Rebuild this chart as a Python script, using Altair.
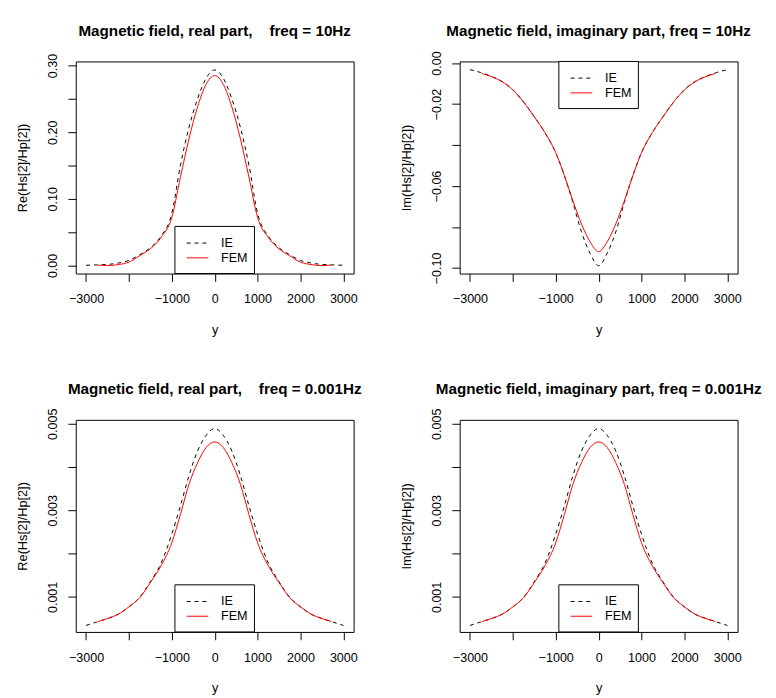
import json
import altair as alt
import pandas as pd

# ---------------- data ----------------
x_ie = [-3000, -2750, -2500, -2250, -2000, -1750, -1500, -1250, -1000, -800, -600, -400, -200, 0,
        200, 400, 600, 800, 1000, 1250, 1500, 1750, 2000, 2250, 2500, 2750, 3000]
x_fem = [-2720, -2500, -2250, -2000, -1750, -1500, -1250, -1000, -800, -600, -400, -200, 0,
         200, 400, 600, 800, 1000, 1250, 1500, 1750, 2000, 2250, 2500, 2720]

re10_ie = [0.0002, 0.0008, 0.0015, 0.0035, 0.0075, 0.0160, 0.0265, 0.0440, 0.0780, 0.1500, 0.2070,
           0.2500, 0.2810, 0.2935, 0.2810, 0.2500, 0.2070, 0.1500, 0.0780, 0.0440, 0.0265, 0.0160,
           0.0075, 0.0035, 0.0015, 0.0008, 0.0002]
re10_fem = [0.0005, -0.0002, 0.0012, 0.0050, 0.0145, 0.0250, 0.0420, 0.0720, 0.1320, 0.1900,
            0.2380, 0.2720, 0.2850, 0.2720, 0.2380, 0.1900, 0.1320, 0.0720, 0.0420, 0.0250,
            0.0145, 0.0050, 0.0012, -0.0002, 0.0005]

im10_ie = [-0.0032, -0.0046, -0.0065, -0.0090, -0.0130, -0.0190, -0.0262, -0.0340, -0.0437,
           -0.0548, -0.0680, -0.0824, -0.0928, -0.0989, -0.0928, -0.0824, -0.0680, -0.0548,
           -0.0437, -0.0340, -0.0262, -0.0190, -0.0130, -0.0090, -0.0065, -0.0046, -0.0032]
im10_fem = [-0.0051, -0.0066, -0.0091, -0.0131, -0.0190, -0.0262, -0.0340, -0.0437, -0.0548,
            -0.0672, -0.0785, -0.0872, -0.0920, -0.0872, -0.0785, -0.0672, -0.0548, -0.0437,
            -0.0340, -0.0262, -0.0190, -0.0131, -0.0091, -0.0066, -0.0051]

re0_ie = [0.00034, 0.00042, 0.00050, 0.00060, 0.00077, 0.00099, 0.00135, 0.00178, 0.00245,
          0.00310, 0.00380, 0.00437, 0.00473, 0.00489, 0.00473, 0.00437, 0.00380, 0.00310,
          0.00245, 0.00178, 0.00135, 0.00099, 0.00077, 0.00060, 0.00050, 0.00042, 0.00034]
re0_fem = [0.00043, 0.00050, 0.00060, 0.00077, 0.00098, 0.00133, 0.00172, 0.00225, 0.00290,
           0.00360, 0.00410, 0.00445, 0.00458, 0.00445, 0.00410, 0.00360, 0.00290, 0.00225,
           0.00172, 0.00133, 0.00098, 0.00077, 0.00060, 0.00050, 0.00043]

im0_ie = [0.00034, 0.00042, 0.00050, 0.00060, 0.00077, 0.00099, 0.00135, 0.00178, 0.00245,
          0.00310, 0.00380, 0.00437, 0.00473, 0.00489, 0.00473, 0.00437, 0.00380, 0.00310,
          0.00245, 0.00178, 0.00135, 0.00099, 0.00077, 0.00060, 0.00050, 0.00042, 0.00034]
im0_fem = [0.00043, 0.00050, 0.00060, 0.00077, 0.00098, 0.00133, 0.00172, 0.00225, 0.00290,
           0.00360, 0.00410, 0.00445, 0.00458, 0.00445, 0.00410, 0.00360, 0.00290, 0.00225,
           0.00172, 0.00133, 0.00098, 0.00077, 0.00060, 0.00050, 0.00043]

x_ticks = [-3000, -2000, -1000, 0, 1000, 2000, 3000]
x_shown = [-3000, -1000, 0, 1000, 2000, 3000]

y_ticks_re10 = [0, 0.05, 0.1, 0.15, 0.2, 0.25, 0.3]
y_shown_re10 = [0, 0.1, 0.2, 0.3]
y_ticks_im10 = [0, -0.02, -0.04, -0.06, -0.08, -0.1]
y_shown_im10 = [0, -0.02, -0.06, -0.1]
y_ticks_low = [0.001, 0.002, 0.003, 0.004, 0.005]
y_shown_low = [0.001, 0.003, 0.005]

series_names = ["IE", "FEM"]
titles = [
    "Magnetic field, real part,\u00a0\u00a0\u00a0 freq = 10Hz",
    "Magnetic field, imaginary part, freq = 10Hz",
    "Magnetic field, real part,\u00a0\u00a0\u00a0 freq = 0.001Hz",
    "Magnetic field, imaginary part, freq = 0.001Hz",
]
y_titles = ["Re(Hs[2]/Hp[2])", "Im(Hs[2]/Hp[2])", "Re(Hs[2]/Hp[2])", "Im(Hs[2]/Hp[2])"]

# ---------------- styling ----------------
W, H = 283, 216
XDOM = [-3240, 3240]
FONT = "Liberation Sans"
one_row = alt.Data(values=[{"k": 1}])


def make_panel(title, ytitle, ie_vals, fem_vals, ydom, yticks, yshown, yfmt, legend_top, anchor=False):
    ie_df = pd.DataFrame({"pos": x_ie, "val": ie_vals})
    fem_df = pd.DataFrame({"pos": x_fem, "val": fem_vals})
    xenc = alt.X(
        "pos:Q",
        scale=alt.Scale(domain=XDOM, nice=False, zero=False),
        axis=alt.Axis(
            values=x_ticks,
            labelExpr=f"indexof({json.dumps(x_shown)}, datum.value) >= 0 ? format(datum.value, 'd') : ''",
            title="y",
            labelPadding=12,
            titlePadding=18,
        ),
    )
    yenc = alt.Y(
        "val:Q",
        scale=alt.Scale(domain=ydom, nice=False, zero=False),
        axis=alt.Axis(
            values=yticks,
            labelExpr=f"indexof({json.dumps(yshown)}, datum.value) >= 0 ? format(datum.value, '{yfmt}') : ''",
            title=ytitle,
            labelAngle=-90,
            labelAlign="center",
            labelBaseline="bottom",
            labelPadding=9,
            titlePadding=17,
        ),
    )
    ie = alt.Chart(ie_df).mark_line(
        color="black", strokeDash=[4, 4], strokeWidth=1, interpolate="monotone"
    ).encode(x=xenc, y=yenc)
    fem = alt.Chart(fem_df).mark_line(
        color="#FF0000", strokeWidth=1, interpolate="monotone"
    ).encode(x=xenc, y=yenc)

    y0 = 0 if legend_top else H - 48
    box = alt.Chart(one_row).mark_rect(fill="white", stroke="black", strokeWidth=1).encode(
        x=alt.value(101), x2=alt.value(182), y=alt.value(y0), y2=alt.value(y0 + 48)
    )
    leg_ie = alt.Chart(one_row).mark_rule(color="black", strokeDash=[4, 4], strokeWidth=1).encode(
        x=alt.value(113), x2=alt.value(135), y=alt.value(y0 + 17)
    )
    leg_fem = alt.Chart(one_row).mark_rule(color="#FF0000", strokeWidth=1).encode(
        x=alt.value(113), x2=alt.value(135), y=alt.value(y0 + 32)
    )
    txt_ie = alt.Chart(one_row).mark_text(
        align="left", baseline="middle", fontSize=12.8, font=FONT, color="black"
    ).encode(x=alt.value(148), y=alt.value(y0 + 17), text=alt.value(series_names[0]))
    txt_fem = alt.Chart(one_row).mark_text(
        align="left", baseline="middle", fontSize=12.8, font=FONT, color="black"
    ).encode(x=alt.value(148), y=alt.value(y0 + 32), text=alt.value(series_names[1]))
    ttl = alt.Chart(one_row).mark_text(
        align="center", baseline="alphabetic", fontSize=15.5, fontWeight="bold", font=FONT, color="black"
    ).encode(x=alt.value(W / 2), y=alt.value(-26), text=alt.value(title))

    layers = [ie, fem, box, leg_ie, leg_fem, txt_ie, txt_fem, ttl]
    if anchor:
        # tiny white mark that pins the top-left corner of the whole figure
        pin = alt.Chart(one_row).mark_rect(fill="white", strokeWidth=0).encode(
            x=alt.value(-63), x2=alt.value(-62), y=alt.value(-42), y2=alt.value(-41)
        )
        layers.append(pin)
    return alt.layer(*layers).properties(width=W, height=H)


p1 = make_panel(titles[0], y_titles[0], re10_ie, re10_fem, [-0.0122, 0.3062],
                y_ticks_re10, y_shown_re10, ".2f", False, anchor=True)
p2 = make_panel(titles[1], y_titles[1], im10_ie, im10_fem, [-0.1027, 0.0008],
                y_ticks_im10, y_shown_im10, ".2f", True)
p3 = make_panel(titles[2], y_titles[2], re0_ie, re0_fem, [0.00019, 0.00509],
                y_ticks_low, y_shown_low, ".3f", False)
p4 = make_panel(titles[3], y_titles[3], im0_ie, im0_fem, [0.00019, 0.00509],
                y_ticks_low, y_shown_low, ".3f", False)

chart = alt.concat(
    p1, p2, p3, p4, columns=2, bounds="flush", spacing={"row": 149, "column": 108}
).properties(
    padding={"left": 5, "top": 5, "right": 5, "bottom": 5}, background="white"
).configure_view(
    stroke="black", strokeWidth=1
).configure_axis(
    grid=False, domain=False, tickColor="black", tickSize=8, tickWidth=1,
    labelFont=FONT, labelFontSize=12.8, labelColor="black",
    titleFont=FONT, titleFontSize=13, titleColor="black", titleFontWeight="normal",
)

chart.save("out.html", embed_options={"renderer": "svg", "actions": False})
